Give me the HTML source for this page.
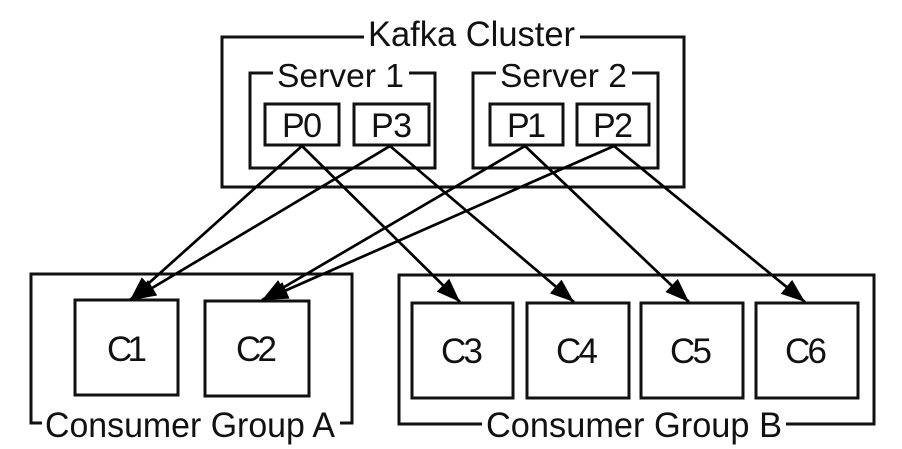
<!DOCTYPE html>
<html><head><meta charset="utf-8"><style>
html,body{margin:0;padding:0;background:#fff;}
svg{display:block;}
text{font-family:"Liberation Sans",Arial,sans-serif;fill:#111;}
</style></head><body>
<svg width="902" height="449" viewBox="0 0 902 449" xmlns="http://www.w3.org/2000/svg">
<defs>
<marker id="a" markerUnits="userSpaceOnUse" markerWidth="26" markerHeight="20" refX="24" refY="9" orient="auto">
<path d="M0,0 L24,9 L0,18 Z" fill="#000"/>
</marker>
</defs>
<g fill="none" stroke="#111" stroke-width="3">
<rect x="222" y="37" width="462" height="150"/>
<rect x="250" y="73" width="185" height="95"/>
<rect x="473" y="73" width="185" height="95"/>
<rect x="265" y="104" width="74" height="41"/>
<rect x="354" y="104" width="75" height="41"/>
<rect x="490" y="104" width="73" height="41"/>
<rect x="577" y="104" width="72" height="41"/>
<rect x="31" y="274" width="321" height="149"/>
<rect x="399" y="275" width="475" height="149"/>
<rect x="75" y="300" width="103" height="95"/>
<rect x="205" y="301" width="104" height="95"/>
<rect x="412" y="303" width="101" height="95"/>
<rect x="527" y="303" width="102" height="95"/>
<rect x="641" y="303" width="102" height="95"/>
<rect x="756" y="303" width="102" height="95"/>
</g>
<g fill="#fff" stroke="none">
<rect x="364" y="30" width="216" height="14"/>
<rect x="273" y="66" width="136" height="14"/>
<rect x="496" y="66" width="136" height="14"/>
<rect x="42" y="416" width="298" height="14"/>
<rect x="482" y="416" width="304" height="14"/>
</g>
<g stroke="#000" stroke-width="2.7" fill="none" marker-end="url(#a)">
<line x1="302" y1="146" x2="130" y2="300"/>
<line x1="390" y1="146" x2="132" y2="300"/>
<line x1="525" y1="146" x2="262" y2="300"/>
<line x1="614" y1="146" x2="264" y2="300"/>
<line x1="302" y1="146" x2="460" y2="302"/>
<line x1="390" y1="146" x2="574" y2="302"/>
<line x1="525" y1="146" x2="689" y2="302"/>
<line x1="614" y1="146" x2="805" y2="302"/>
</g>
<text x="368" y="46" font-size="35" textLength="207" lengthAdjust="spacingAndGlyphs">Kafka Cluster</text>
<text x="277" y="87" font-size="33" textLength="127" lengthAdjust="spacingAndGlyphs">Server 1</text>
<text x="500" y="87" font-size="33" textLength="127" lengthAdjust="spacingAndGlyphs">Server 2</text>
<g font-size="34" lengthAdjust="spacingAndGlyphs">
<text x="282" y="137" textLength="40">P0</text>
<text x="371" y="137" textLength="41">P3</text>
<text x="507" y="137" textLength="39">P1</text>
<text x="593" y="137" textLength="40">P2</text>
</g>
<g font-size="35" lengthAdjust="spacingAndGlyphs">
<text x="107" y="361" textLength="40">C1</text>
<text x="236" y="361" textLength="41">C2</text>
<text x="441" y="363" textLength="42">C3</text>
<text x="556" y="363" textLength="42">C4</text>
<text x="670" y="363" textLength="42">C5</text>
<text x="785" y="363" textLength="42">C6</text>
</g>
<text x="45" y="437" font-size="35" textLength="290" lengthAdjust="spacingAndGlyphs">Consumer Group A</text>
<text x="486" y="437" font-size="35" textLength="296" lengthAdjust="spacingAndGlyphs">Consumer Group B</text>
</svg>
</body></html>
